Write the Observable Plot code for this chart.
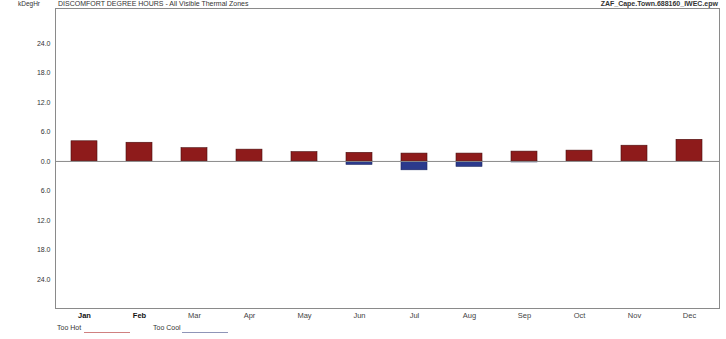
<!DOCTYPE html>
<html>
<head>
<meta charset="utf-8">
<script src="https://cdn.jsdelivr.net/npm/d3@7"></script>
<script src="https://cdn.jsdelivr.net/npm/@observablehq/plot@0.6"></script>
<style>
  html, body { margin: 0; padding: 0; background: #fff; }
  #wrap { position: relative; width: 726px; height: 339px; font-family: "Liberation Sans", Arial, sans-serif; color: #333; }
  .t { position: absolute; font-size: 7px; white-space: nowrap; line-height: 1; }
  .sw { position: absolute; height: 0; border-top: 1px solid; }
</style>
</head>
<body>
<div id="wrap"></div>
<script>
const months = ["Jan","Feb","Mar","Apr","May","Jun","Jul","Aug","Sep","Oct","Nov","Dec"];
const tooHot  = [4.1, 3.8, 2.7, 2.4, 1.9, 1.75, 1.6, 1.6, 2.0, 2.2, 3.2, 4.4];
const tooCool = [0, 0, 0, 0, -0.1, -0.7, -1.8, -1.1, -0.2, 0, 0, 0];
const yTicks = [-24, -18, -12, -6, 0, 6, 12, 18, 24];
const titleText = "DISCOMFORT DEGREE HOURS - All Visible Thermal Zones";
const unitText = "kDegHr";
const fileText = "ZAF_Cape.Town.688160_IWEC.epw";
const legendLabels = ["Too Hot", "Too Cool"];

const hotColor = "#8e1b1b";
const coolColor = "#2b3a8c";

const data = months.map((m, i) => ({month: m, hot: tooHot[i], cool: tooCool[i]}));

const chart = Plot.plot({
  width: 726,
  height: 320,
  marginLeft: 55,
  marginRight: 7,
  marginTop: 8,
  marginBottom: 12,
  style: {fontFamily: "Liberation Sans, Arial, sans-serif", fontSize: "7px", color: "#333", background: "white", overflow: "visible"},
  x: {domain: months, paddingInner: 0.52, paddingOuter: 0.27},
  y: {domain: [-29.9, 31.1]},
  marks: [
    Plot.barY(data, {x: "month", y1: 0, y2: "cool", fill: coolColor, stroke: "#1c2660", strokeWidth: 0.6}),
    Plot.barY(data, {x: "month", y1: 0, y2: "hot", fill: hotColor, stroke: "#4a0e0e", strokeWidth: 0.6}),
    Plot.ruleY([0], {stroke: "#8a8a8a", strokeWidth: 1}),
    Plot.frame({stroke: "#8a8a8a", strokeWidth: 1}),
    Plot.axisY(yTicks, {tickSize: 0, tickPadding: 5, tickFormat: d => Math.abs(d).toFixed(1), fontSize: 7, fill: "#333"}),
    Plot.axisX(months.slice(0, 2), {tickSize: 0, tickPadding: 4, fontSize: 7.5, fontWeight: "bold", fill: "#111", label: null}),
    Plot.axisX(months.slice(2), {tickSize: 0, tickPadding: 4, fontSize: 7.5, fill: "#444", label: null})
  ]
});

const wrap = document.getElementById("wrap");
wrap.appendChild(chart);
chart.style.position = "absolute";
chart.style.left = "0px";
chart.style.top = "0px";

function addText(txt, left, top, extra) {
  const d = document.createElement("div");
  d.className = "t";
  d.textContent = txt;
  d.style.left = left + "px";
  d.style.top = top + "px";
  if (extra) Object.assign(d.style, extra);
  wrap.appendChild(d);
  return d;
}
addText(unitText, 18, 1, {fontSize: "6.5px"});
addText(titleText, 58, 0);
addText(fileText, 0, 0, {left: "auto", right: "8px", fontWeight: "bold", fontSize: "7px"});
addText(legendLabels[0], 57, 324);
addText(legendLabels[1], 153, 324);
const sw1 = document.createElement("div"); sw1.className = "sw";
Object.assign(sw1.style, {left: "84px", top: "332px", width: "46px", borderColor: "#d08080"});
wrap.appendChild(sw1);
const sw2 = document.createElement("div"); sw2.className = "sw";
Object.assign(sw2.style, {left: "182px", top: "332px", width: "46px", borderColor: "#8f95b8"});
wrap.appendChild(sw2);
</script>
</body>
</html>
